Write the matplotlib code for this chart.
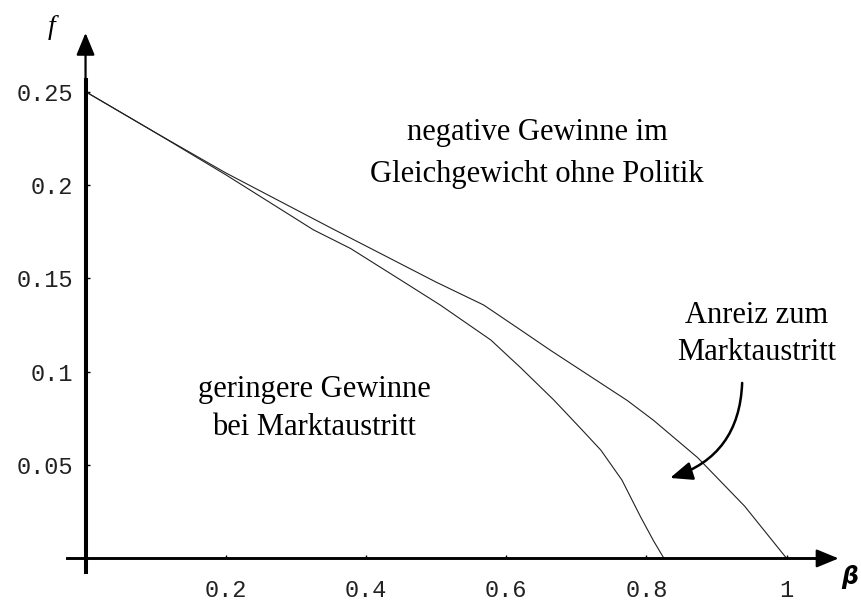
import matplotlib
matplotlib.use("Agg")
import matplotlib.pyplot as plt

# curves
beta_upper = [0, 0.1, 0.2, 0.35, 0.5, 0.568, 0.62, 0.663, 0.716, 0.773, 0.81, 0.873, 0.94, 1.0]
f_upper = [0.25, 0.228, 0.2065, 0.177, 0.148, 0.1357, 0.1225, 0.1115, 0.0985, 0.0845, 0.074, 0.054, 0.028, 0]

beta_lower = [0, 0.1, 0.2, 0.325, 0.378, 0.45, 0.506, 0.578, 0.621, 0.668, 0.706, 0.735, 0.765, 0.792, 0.81, 0.825]
f_lower = [0.25, 0.228, 0.2055, 0.176, 0.166, 0.149, 0.1357, 0.117, 0.102, 0.0848, 0.0697, 0.058, 0.042, 0.022, 0.0095, 0]

xticks = [0.2, 0.4, 0.6, 0.8, 1.0]
xtick_labels = ["0.2", "0.4", "0.6", "0.8", "1"]
yticks = [0.05, 0.1, 0.15, 0.2, 0.25]
ytick_labels = ["0.05", "0.1", "0.15", "0.2", "0.25"]

fig = plt.figure(figsize=(8.61, 6.01), dpi=100)
ax = fig.add_axes([0, 0, 1, 1])
ax.set_xlim(-0.122, 1.106)
ax.set_ylim(-0.0228, 0.2991)
ax.patch.set_alpha(0)

ax.plot(beta_upper, f_upper, color="#222222", lw=0.8)
ax.plot(beta_lower, f_lower, color="#222222", lw=0.8)

# axes like Mathematica
for s in ["top", "right"]:
    ax.spines[s].set_visible(False)
ax.spines["left"].set_position(("data", 0))
ax.spines["bottom"].set_position(("data", 0))
ax.spines["left"].set_bounds(-0.007, 0.2565)
ax.spines["bottom"].set_bounds(-0.027, 1.05)
ax.spines["left"].set_linewidth(2.9)
ax.spines["bottom"].set_linewidth(2.1)

ax.annotate("", xy=(0, 0.2815), xytext=(0, 0.255),
            arrowprops=dict(arrowstyle="-|>,head_length=0.8,head_width=0.33",
                            mutation_scale=17, color="black", lw=1.6, shrinkA=0, shrinkB=0))
ax.annotate("", xy=(1.074, 0), xytext=(1.04, 0),
            arrowprops=dict(arrowstyle="-|>,head_length=0.8,head_width=0.33",
                            mutation_scale=17, color="black", lw=1.6, shrinkA=0, shrinkB=0))

mono = "Liberation Mono"
ax.set_xticks(xticks)
ax.set_xticklabels(xtick_labels, fontfamily=mono, fontsize=17, color="#222222")
ax.set_yticks(yticks)
ax.set_yticklabels(ytick_labels, fontfamily=mono, fontsize=17, color="#222222")
ax.tick_params(axis="x", direction="in", length=2, width=1, pad=15)
ax.tick_params(axis="y", direction="in", length=3, width=1, pad=9)

serif = "Liberation Serif"
ax.text(0.644, 0.2239, "negative Gewinne im", family=serif, fontsize=22, ha="center", va="baseline")
ax.text(0.644, 0.2017, "Gleichgewicht ohne Politik", family=serif, fontsize=22, ha="center", va="baseline")
ax.text(0.326, 0.0865, "geringere Gewinne", family=serif, fontsize=22, ha="center", va="baseline")
ax.text(0.326, 0.0661, "bei Marktaustritt", family=serif, fontsize=22, ha="center", va="baseline")
ax.text(0.9565, 0.1261, "Anreiz zum", family=serif, fontsize=22, ha="center", va="baseline")
ax.text(0.9565, 0.1063, "Marktaustritt", family=serif, fontsize=22, ha="center", va="baseline")

ax.annotate("", xy=(0.8337, 0.0431), xytext=(0.9365, 0.094),
            arrowprops=dict(arrowstyle="-|>,head_length=0.8,head_width=0.33",
                            mutation_scale=17, color="black", lw=1.8, shrinkA=0, shrinkB=0,
                            connectionstyle="arc3,rad=-0.35"))

ax.text(-0.048, 0.2845, "f", family=serif, style="italic",
        fontsize=20, ha="center", va="center")
ax.text(1.0906, -0.0099, "β", family="DejaVu Sans", style="italic", fontweight="bold",
        fontsize=17, ha="center", va="center")

fig.savefig("out.png", dpi=100)
